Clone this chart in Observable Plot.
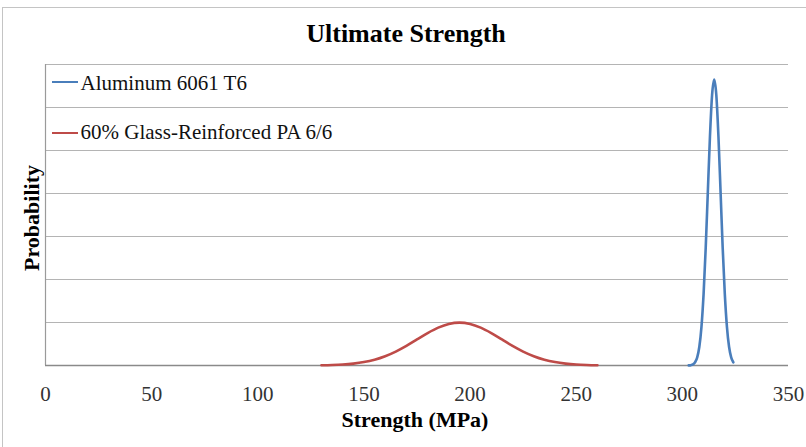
<!DOCTYPE html>
<html>
<head>
<meta charset="utf-8">
<script src="https://cdn.jsdelivr.net/npm/d3@7"></script>
<script src="https://cdn.jsdelivr.net/npm/@observablehq/plot@0.6"></script>
<style>
  html, body { margin: 0; padding: 0; background: #fff; }
  #wrap { position: relative; width: 806px; height: 447px; overflow: hidden; font-family: "Liberation Serif", "Times New Roman", serif; }
  #frame { position: absolute; left: 2px; top: 7px; width: 820px; height: 460px; border: 1px solid #c4c4c4; box-sizing: border-box; }
  .lbl { position: absolute; white-space: nowrap; color: #000; line-height: 1; font-family: "Liberation Serif", "Times New Roman", serif; }
  #title { left: 0; width: 812px; top: 21px; text-align: center; font-weight: bold; font-size: 26px; }
  #xlabel { left: 0; width: 830px; top: 409px; text-align: center; font-weight: bold; font-size: 22px; }
  #ylabel { left: 32px; top: 218px; font-weight: bold; font-size: 22px; transform: translate(-50%, -50%) rotate(-90deg); }
  .sw { position: absolute; left: 52px; width: 26px; height: 2px; }
  svg { position: absolute; left: 0; top: 0; }
</style>
</head>
<body>
<div id="wrap">
  <div id="frame"></div>
  <div id="chart"></div>
  <div class="lbl" id="title">Ultimate Strength</div>
  <div class="lbl" id="xlabel">Strength (MPa)</div>
  <div class="lbl" id="ylabel">Probability</div>
  <div class="sw" style="top:81px; background:#4A7EBB"></div>
  <div class="sw" style="top:132px; background:#BE4B48"></div>
</div>
<script>
// Series names
const seriesNames = ["Aluminum 6061 T6", "60% Glass-Reinforced PA 6/6"];
// Series: Aluminum 6061 T6
const aluX = [303,304,305,306,307,308,309,310,311,312,313,314,315,316,317,318,319,320,321,322,323,324];
const aluY = [0.00004,0.00016,0.0005,0.0015,0.0038,0.0087,0.0180,0.0332,0.0547,0.0807,0.1065,0.1258,0.1330,0.1258,0.1065,0.0807,0.0547,0.0332,0.0180,0.0087,0.0038,0.0015];
// Series: 60% Glass-Reinforced PA 6/6
const paX = [130,135,140,145,150,155,160,165,170,175,180,185,190,195,200,205,210,215,220,225,230,235,240,245,250,255,260];
const paY = [0.00010,0.00022,0.00045,0.00088,0.00159,0.00270,0.00432,0.00648,0.00913,0.01210,0.01506,0.01760,0.01934,0.01995,0.01934,0.01760,0.01506,0.01210,0.00913,0.00648,0.00432,0.00270,0.00159,0.00088,0.00045,0.00022,0.00010];
const xTicks = [0,50,100,150,200,250,300,350];
const yGrid = [0.02,0.04,0.06,0.08,0.10,0.12,0.14];

const alu = aluX.map((x,i)=>({x, y: aluY[i]}));
const pa = paX.map((x,i)=>({x, y: paY[i]}));
const serif = "Liberation Serif, Times New Roman, serif";

const chart = Plot.plot({
  width: 806,
  height: 447,
  marginLeft: 45,
  marginRight: 18,
  marginTop: 64,
  marginBottom: 82,
  style: { fontFamily: serif, fontSize: "21px", background: "transparent", overflow: "visible" },
  x: { domain: [0, 350] },
  y: { domain: [0, 0.14], axis: null },
  marks: [
    Plot.ruleY(yGrid, { stroke: "#b4b4b4", strokeWidth: 1.2 }),
    Plot.ruleX([0], { stroke: "#9a9a9a", strokeWidth: 1.2 }),
    Plot.ruleY([0], { stroke: "#8a8a8a", strokeWidth: 1.5 }),
    Plot.line(pa, { x: "x", y: "y", stroke: "#BE4B48", strokeWidth: 2.6, curve: "monotone-x" }),
    Plot.line(alu, { x: "x", y: "y", stroke: "#4A7EBB", strokeWidth: 2.6, curve: "monotone-x" }),
    Plot.axisX(xTicks, { tickSize: 0, tickPadding: 21, tickFormat: d => String(d), label: null, fill: "#333", fontSize: 21 }),
    Plot.text([seriesNames[0]], { frameAnchor: "top-left", dx: 35, dy: 18.3, text: d => d, textAnchor: "start", lineAnchor: "middle", fontFamily: serif, fontSize: 21, fill: "#111" }),
    Plot.text([seriesNames[1]], { frameAnchor: "top-left", dx: 35, dy: 67.3, text: d => d, textAnchor: "start", lineAnchor: "middle", fontFamily: serif, fontSize: 21, fill: "#111" })
  ]
});
document.getElementById("chart").appendChild(chart);
</script>
</body>
</html>
